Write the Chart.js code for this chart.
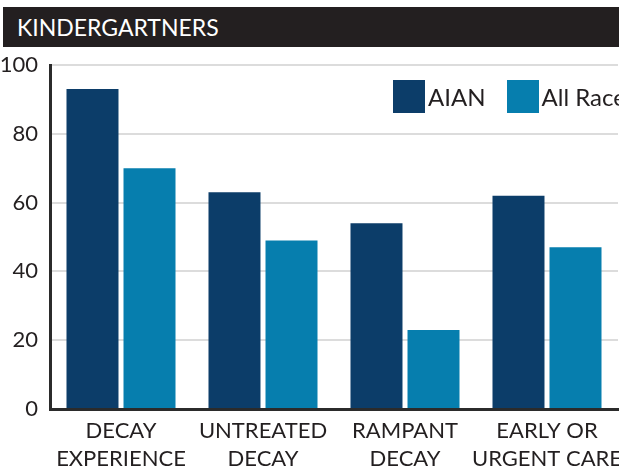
<!DOCTYPE html>
<html>
<head>
<meta charset="utf-8">
<script src="https://cdn.jsdelivr.net/npm/chart.js@4"></script>
<style>
    body { margin: 0; width: 619px; height: 470px; overflow: hidden; background: #fff; position: relative; font-family: Lato, sans-serif; }
    #header { position: absolute; left: 3px; top: 7px; width: 660px; height: 40px; background: #231f20; color: #fff; font-size: 23px; line-height: 41px; padding-left: 14px; z-index: 2; }
    #wrap { position: absolute; left: 0; top: 0; width: 660px; height: 470px; }
    #legend { position: absolute; left: 393px; top: 80px; display: flex; white-space: nowrap; z-index: 2; }
    .item { display: flex; align-items: center; margin-right: 21px; color: #231f20; font-size: 24px; }
    .swatch { width: 32px; height: 33px; margin-right: 3px; }
</style>
</head>
<body>
<div id="header">KINDERGARTNERS</div>
<div id="legend"></div>
<div id="wrap"><canvas id="kinderChart" width="660" height="470"></canvas></div>
<script>
// Categories (two-line labels) and percentages per group
const categories = [
    ['DECAY', 'EXPERIENCE'],
    ['UNTREATED', 'DECAY'],
    ['RAMPANT', 'DECAY'],
    ['EARLY OR', 'URGENT CARE']
];
const aianValues = [93, 63, 54, 62];
const allRacesValues = [70, 49, 23, 47];
const yTicks = [0, 20, 40, 60, 80, 100];

const seriesNames = ['AIAN', 'All Races'];
const seriesColors = ['#0c3d69', '#067eae'];

// Legend built from the series
const legend = document.getElementById('legend');
seriesNames.forEach((name, i) => {
    const item = document.createElement('div');
    item.className = 'item';
    item.innerHTML = `<span class="swatch" style="background:${seriesColors[i]}"></span>${name}`;
    legend.appendChild(item);
});

const ctx = document.getElementById('kinderChart').getContext('2d');
const kinderChart = new Chart(ctx, {
    type: 'bar',
    data: {
        labels: categories,
        datasets: [{
            label: seriesNames[0],
            data: aianValues,
            backgroundColor: seriesColors[0],
            categoryPercentage: 0.803,
            barPercentage: 0.912
        },
        {
            label: seriesNames[1],
            data: allRacesValues,
            backgroundColor: seriesColors[1],
            categoryPercentage: 0.803,
            barPercentage: 0.912
        }]
    },
    options: {
        responsive: false,
        animation: false,
        layout: {
            padding: { top: 65, right: 42, bottom: 0, left: 0 }
        },
        plugins: {
            legend: { display: false },
            title: { display: false },
            tooltip: { enabled: false }
        },
        scales: {
            x: {
                grid: { display: false },
                border: { color: '#2b2b2b', width: 3 },
                ticks: {
                    color: '#231f20',
                    padding: 0,
                    maxRotation: 0,
                    autoSkip: false,
                    font: { family: 'Lato', size: 22, lineHeight: 1.27 }
                },
                afterFit: scale => { scale.height = 61; }
            },
            y: {
                min: 0,
                max: 100,
                afterBuildTicks: scale => {
                    scale.ticks = yTicks.map(v => ({ value: v }));
                },
                grid: { color: '#dcdcdc', lineWidth: 2, drawTicks: false },
                border: { color: '#2b2b2b', width: 3 },
                ticks: {
                    color: '#231f20',
                    padding: 12,
                    font: { family: 'Lato', size: 22 }
                },
                afterFit: scale => { scale.width = 50; }
            }
        }
    }
});
</script>
</body>
</html>
